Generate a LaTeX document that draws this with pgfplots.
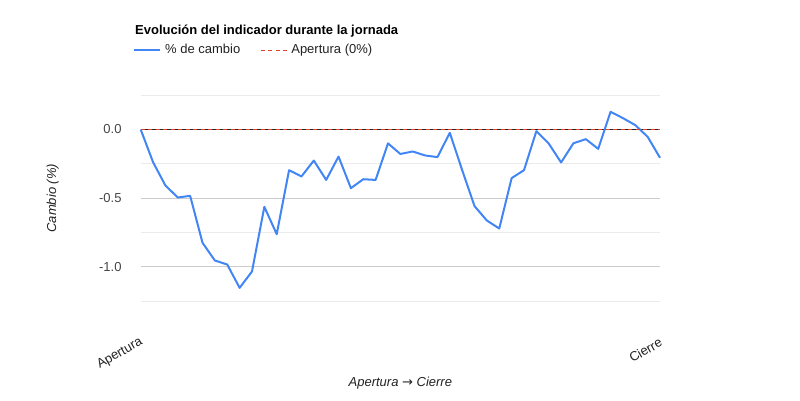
\documentclass[border=0pt]{standalone}
\usepackage{fontspec}
\setmainfont{Liberation Sans}
\newfontfamily\dejavu{DejaVu Sans}
\usepackage{pgfplots}
\pgfplotsset{compat=1.18}
\definecolor{lineblue}{HTML}{4285F4}
\definecolor{aperturared}{HTML}{E0442F}
\definecolor{majgrid}{HTML}{CCCCCC}
\definecolor{mingrid}{HTML}{EBEBEB}
\definecolor{tcol}{HTML}{444444}
\definecolor{lcol}{HTML}{222222}
\newcommand{\fs}{\fontsize{13pt}{15pt}\selectfont}
\begin{document}
\begin{tikzpicture}
\useasboundingbox (0pt,0pt) rectangle (800pt,400pt);
\begin{axis}[
  at={(140.7pt,98.83pt)}, anchor=south west,
  scale only axis, width=519.3pt, height=206pt,
  xmin=0, xmax=42, ymin=-1.25, ymax=0.25,
  axis line style={draw=none},
  major tick length=0pt, minor tick length=0pt,
  tick style={draw=none},
  xtick={0,42}, xticklabels={Apertura,Cierre},
  xticklabel style={xshift=1pt, yshift=-40pt, rotate=30, anchor=east, inner sep=0pt, font=\fs, text=lcol},
  ytick={-1,-0.5,0},
  minor ytick={-1.25,-0.75,-0.25,0.25},
  ymajorgrids, yminorgrids,
  major grid style={color=majgrid, line width=1pt},
  minor grid style={color=mingrid, line width=1pt},
  yticklabel style={font=\fs, text=tcol, inner sep=0pt, xshift=-19pt},
  /pgf/number format/.cd, fixed, fixed zerofill, precision=1, assume math mode=true, /pgfplots/.cd,
  xlabel={\itshape Apertura {\upshape\dejavu\char"2192} Cierre},
  ylabel={\itshape Cambio (\%)},
  xlabel style={at={(rel axis cs:0.5,0)}, anchor=center, yshift=-82pt, font=\fs, text=lcol},
  ylabel style={at={(rel axis cs:0,0.5)}, anchor=center, yshift=88pt, font=\fs, text=lcol},
  title={Evolución del indicador durante la jornada},
  title style={at={(rel axis cs:0,1)}, anchor=west, xshift=-9pt, yshift=58pt, font=\bfseries\fs, text=black},
  legend columns=2,
  legend style={at={(rel axis cs:0,1)}, anchor=west, xshift=-7.7pt, yshift=45.17pt, draw=none, fill=none,
    inner sep=0pt, font=\fs, text=lcol,
    nodes={inner sep=0pt},
    /tikz/every odd column/.append style={column sep=4pt},
    /tikz/every even column/.append style={column sep=20pt}},
  legend cell align=left,
  legend image code/.code={\draw[#1] (0pt,0pt) -- (26pt,0pt);},
  clip=false,
]
\addplot[draw=black!85, line width=1pt, forget plot] coordinates {(0,0) (42,0)};
\addplot[draw=lineblue, line width=2pt, line join=round] coordinates {
(0,0.000) (1,-0.238) (2,-0.408) (3,-0.495) (4,-0.483) (5,-0.825) (6,-0.954)
(7,-0.983) (8,-1.153) (9,-1.034) (10,-0.563) (11,-0.762) (12,-0.296) (13,-0.342)
(14,-0.226) (15,-0.367) (16,-0.197) (17,-0.427) (18,-0.362) (19,-0.367) (20,-0.101)
(21,-0.178) (22,-0.160) (23,-0.189) (24,-0.201) (25,-0.024) (26,-0.296) (27,-0.558)
(28,-0.663) (29,-0.721) (30,-0.354) (31,-0.296) (32,-0.012) (33,-0.102) (34,-0.240)
(35,-0.100) (36,-0.070) (37,-0.141) (38,0.129) (39,0.083) (40,0.032) (41,-0.053)
(42,-0.206)
};
\addlegendentry{\% de cambio}
\addplot[draw=aperturared, line width=1pt, dash pattern=on 4pt off 3.5pt] coordinates {(0,0) (42,0)};
\addlegendentry{Apertura (0\%)}
\end{axis}
\end{tikzpicture}
\end{document}
